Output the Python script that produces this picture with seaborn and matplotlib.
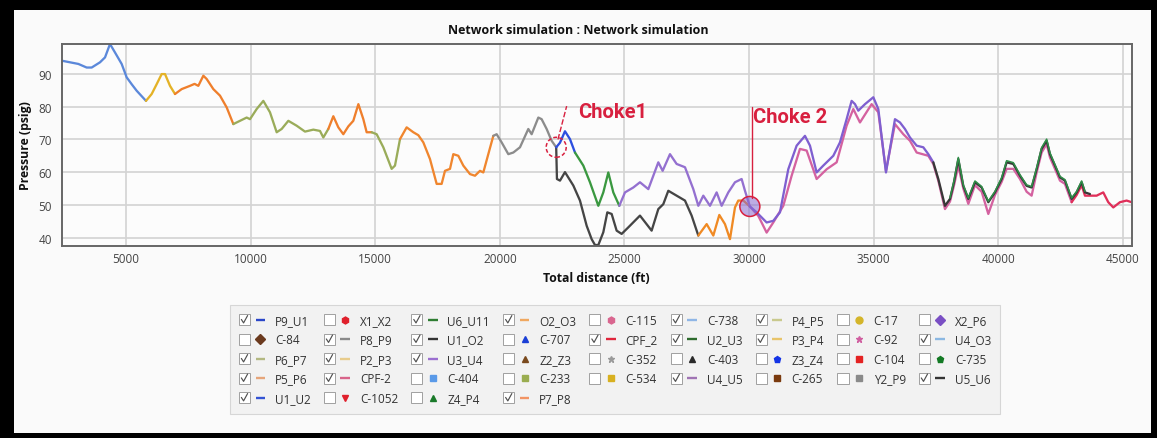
import numpy as np
import pandas as pd
import matplotlib
matplotlib.use("Agg")
import matplotlib.pyplot as plt
import seaborn as sns
from matplotlib.lines import Line2D
from matplotlib.patches import Rectangle, Ellipse
from matplotlib.legend_handler import HandlerBase

# ---------------- data (distance ft, pressure psig) ----------------
u1_u2_x = [2419, 2753, 3088, 3422, 3623, 3957, 4158, 4358, 4559, 4826, 5027, 5227, 5428, 5802]
u1_u2_y = [94.1, 93.6, 93.1, 92.0, 92.0, 93.6, 95.1, 99.2, 96.6, 93.1, 89.0, 86.9, 84.9, 81.8]

p2_p3_x = [5802, 6030, 6230, 6431, 6565, 6765, 6966]
p2_p3_y = [81.8, 83.9, 86.9, 90.0, 90.0, 86.4, 83.9]

p3_p4_x = [6966, 7233, 7568, 7750, 7902, 8103, 8236, 8504, 8771, 9039, 9306]
p3_p4_y = [83.9, 85.4, 86.4, 87.0, 86.4, 89.5, 88.5, 85.4, 83.4, 79.8, 74.7]

p4_p5_x = [9306, 9574, 9841, 9975, 10242, 10510, 10777, 11045, 11245, 11513, 11847, 12181,
           12516, 12783, 12917, 13117]
p4_p5_y = [74.7, 75.7, 76.7, 76.2, 79.3, 81.8, 78.3, 72.2, 73.2, 75.7, 74.2, 72.4,
           73.0, 72.6, 70.6, 73.2]

p5_p6_x = [13117, 13318, 13519, 13719, 13920, 14120, 14323, 14522, 14655, 14856]
p5_p6_y = [73.2, 77.1, 73.7, 71.6, 74.0, 75.7, 80.8, 76.2, 72.2, 72.2]

p6_p7_x = [14856, 15057, 15324, 15658, 15792, 15993]
p6_p7_y = [72.2, 71.6, 67.6, 61.0, 62.0, 70.1]

p7_p8_x = [15993, 16260, 16528, 16729, 16929, 17196, 17464, 17664, 17798, 17999, 18132,
           18333, 18533, 18801, 19002, 19202, 19336, 19536, 19737]
p7_p8_y = [70.1, 73.7, 72.2, 71.3, 69.1, 64.0, 56.4, 56.4, 60.4, 61.0, 65.5,
           65.0, 62.0, 59.4, 58.9, 60.4, 59.9, 65.5, 71.1]

p8_p9_x = [19737, 19871, 20071, 20339, 20540, 20807, 21141, 21275, 21543, 21676, 21877,
           22077, 22260]
p8_p9_y = [71.1, 71.6, 69.1, 65.5, 66.0, 67.6, 73.2, 71.6, 76.7, 76.2, 73.2, 69.6, 67.6]

# upper branch after Choke 1
p9_u1_x = [22260, 22412, 22612, 22813, 23014]
p9_u1_y = [67.6, 69.0, 72.5, 70.1, 66.0]

u2_u3_x = [23014, 23348, 23615, 23950, 24150, 24351, 24551, 24792]
u2_u3_y = [66.0, 62.0, 56.9, 49.7, 53.8, 59.9, 53.8, 49.7]

u3_u4_x = [24792, 25020, 25354, 25621, 25956, 26357, 26531, 26825, 27092, 27427, 27761,
           27962, 28162, 28430, 28697, 28898, 29165, 29433, 29700, 29834, 30030]
u3_u4_y = [49.7, 53.8, 55.3, 56.9, 54.8, 63.0, 60.4, 65.5, 62.5, 61.5, 54.8,
           49.7, 52.8, 49.7, 53.8, 49.7, 53.8, 56.9, 57.9, 54.3, 49.5]

# lower branch after Choke 1
u1_o2_x = [22260, 22290, 22412, 22612, 22947, 23214, 23482, 23682, 23816, 23950, 24150,
           24311, 24485, 24685, 24886, 25153, 25621, 26089, 26357, 26557, 26758, 27092,
           27427, 27694, 27962]
u1_o2_y = [67.6, 57.9, 57.4, 60.0, 55.9, 51.3, 43.6, 39.5, 37.7, 37.7, 41.6,
           47.7, 47.2, 42.1, 41.1, 43.1, 46.7, 42.1, 48.7, 50.2, 54.3, 52.8,
           51.3, 46.7, 40.6]

o2_o3_x = [27962, 28297, 28564, 28804, 29031, 29232, 29433, 29566, 29767, 30030]
o2_o3_y = [40.6, 44.1, 40.6, 46.9, 44.1, 39.5, 49.2, 51.3, 51.3, 49.5]

# after Choke 2
u4_u5_x = [30030, 30302, 30703, 30970, 31238, 31572, 31907, 32241, 32442, 32709, 32976,
           33378, 33645, 33912, 34113, 34248, 34381, 34649, 34983, 35184, 35491, 35852,
           36053, 36253, 36454, 36722, 36989, 37190, 37390]
u4_u5_y = [49.5, 47.7, 44.6, 45.1, 47.7, 60.9, 68.1, 71.1, 68.1, 59.9, 62.0,
           65.0, 69.1, 76.2, 81.8, 80.8, 78.8, 80.8, 82.9, 79.3, 59.9, 76.2,
           75.2, 73.2, 70.6, 68.1, 67.6, 65.5, 63.0]

cpf2_x = [30030, 30369, 30703, 30970, 31372, 31706, 32040, 32308, 32709, 33114, 33512,
          33912, 34180, 34448, 34916, 35184, 35491, 35852, 36187, 36454, 36722, 37190,
          37390, 37591, 37858, 38059, 38219, 38393, 38594, 38795, 39062, 39330, 39597,
          39864, 40132, 40332, 40600, 40867, 41135, 41335, 41536, 41736, 41937, 42071,
          42271, 42472, 42672, 42940]
cpf2_y = [49.5, 46.6, 41.5, 44.6, 49.7, 58.9, 67.1, 66.6, 57.9, 60.9, 63.0,
          74.2, 79.3, 75.2, 80.8, 78.3, 60.4, 74.7, 71.6, 69.6, 66.0, 65.0,
          62.5, 57.4, 48.7, 51.0, 55.9, 62.0, 55.0, 50.3, 56.0, 54.0, 47.2,
          53.0, 57.0, 61.0, 61.0, 57.9, 54.0, 52.8, 59.9, 66.0, 68.6, 64.5,
          61.0, 57.4, 56.4, 50.8]

cpf_2_x = [42940, 43140, 43341, 43475, 43675, 43942, 44209, 44410, 44611, 44878, 45146, 45347]
cpf_2_y = [50.8, 53.0, 56.0, 52.8, 52.8, 52.8, 53.8, 50.8, 49.2, 50.8, 51.3, 50.8]

u5_u6_x = [37390, 37591, 37858, 38059, 38219, 38393, 38594, 38795, 39062, 39330, 39597,
           39864, 40132, 40332, 40600, 40867, 41135, 41335, 41536, 41736, 41937, 42071,
           42271, 42472, 42672, 42940, 43140, 43341, 43475, 43675]
u5_u6_y = [63.0, 57.9, 49.7, 51.8, 56.9, 64.0, 55.8, 51.8, 56.9, 55.3, 50.8,
           53.8, 57.9, 63.0, 62.5, 58.9, 55.8, 55.3, 60.9, 67.1, 69.6, 65.5,
           62.0, 58.4, 57.4, 51.8, 53.8, 56.9, 53.8, 53.3]

u6_u11_x = [38059, 38219, 38393, 38594, 38795, 39062, 39330, 39597, 39864, 40132, 40332,
            40600, 40867, 41135, 41335, 41536, 41736, 41937, 42071, 42271, 42472, 42672,
            42940, 43140, 43341, 43475]
u6_u11_y = [52.1, 57.3, 64.5, 56.1, 52.1, 57.3, 55.6, 51.1, 54.1, 58.3, 63.5,
            62.9, 59.2, 56.1, 55.6, 61.3, 67.5, 70.1, 65.9, 62.3, 58.7, 57.7,
            52.1, 54.1, 57.3, 54.1]

choke_x = [22260, 30030]
choke_y = [67.6, 49.5]
choke_labels = ["Choke1", "Choke 2"]

x_ticks = [5000, 10000, 15000, 20000, 25000, 30000, 35000, 40000, 45000]
y_ticks = [40, 50, 60, 70, 80, 90]

# legend entries in display (row-major) order
legend_labels = ["P9_U1", "X1_X2", "U6_U11", "O2_O3", "C-115", "C-738", "P4_P5", "C-17", "X2_P6",
                 "C-84", "P8_P9", "U1_O2", "C-707", "CPF_2", "U2_U3", "P3_P4", "C-92", "U4_O3",
                 "P6_P7", "P2_P3", "U3_U4", "Z2_Z3", "C-352", "C-403", "Z3_Z4", "C-104", "C-735",
                 "P5_P6", "CPF-2", "C-404", "C-233", "C-534", "U4_U5", "C-265", "Y2_P9", "U5_U6",
                 "U1_U2", "C-1052", "Z4_P4", "P7_P8"]
legend_checked = [1, 0, 1, 1, 0, 1, 1, 0, 0,
                  0, 1, 1, 0, 1, 1, 1, 0, 1,
                  1, 1, 1, 0, 0, 0, 0, 0, 0,
                  1, 1, 0, 0, 0, 1, 0, 0, 1,
                  1, 0, 0, 1]
legend_colors = ["#2a46c8", "#e0202c", "#2e7d32", "#f0a860", "#d9668f", "#8fb6e6", "#c9c98e", "#d4b52a", "#7a4fc4",
                 "#6b3a1e", "#8a8a8a", "#333333", "#1b3fd6", "#e0263c", "#2e6b2e", "#e8c46a", "#d05fa0", "#8cb8e2",
                 "#b3b882", "#e8cc8c", "#9b6fd0", "#7a4a1e", "#9a9a9a", "#2a2a2a", "#1434e6", "#e42222", "#137a24",
                 "#e6a57a", "#d8648a", "#5a9ae8", "#9aad50", "#d8b020", "#a074b4", "#7a3a0e", "#8a8a8a", "#333333",
                 "#3454d4", "#e0202c", "#1a7a2a", "#f29464"]
legend_markers = [None, "h", None, None, "h", None, None, "o", "D",
                  "D", None, None, "^", None, None, None, "*", None,
                  None, None, None, "^", "*", "^", "p", "s", "p",
                  None, None, "s", "s", "s", None, "s", "s", None,
                  None, "v", "^", None]

# ---------------- style ----------------
sns.set_theme(style="whitegrid")
plt.rcParams["font.family"] = ["Open Sans", "DejaVu Sans"]

W, H = 1157, 439
fig = plt.figure(figsize=(W / 100, H / 100), dpi=100, facecolor="black")
fig.add_artist(Rectangle((14 / W, 1 - 434 / H), (1151 - 14) / W, (434 - 11) / H,
                         transform=fig.transFigure, facecolor="#fafafa",
                         edgecolor="none", zorder=0))

ax = fig.add_axes([61.7 / W, 1 - 247 / H, (1131.7 - 61.7) / W, (247 - 45) / H])
ax.set_facecolor("#fcfcfc")

segments = [
    (u1_u2_x, u1_u2_y, "#5b88da"),
    (p2_p3_x, p2_p3_y, "#e4b226"),
    (p3_p4_x, p3_p4_y, "#ef7f2c"),
    (p4_p5_x, p4_p5_y, "#9aac5a"),
    (p5_p6_x, p5_p6_y, "#ef7f2c"),
    (p6_p7_x, p6_p7_y, "#9aac5a"),
    (p7_p8_x, p7_p8_y, "#f0862e"),
    (p8_p9_x, p8_p9_y, "#8c8c8c"),
    (u1_o2_x, u1_o2_y, "#454545"),
    (o2_o3_x, o2_o3_y, "#f08a24"),
    (p9_u1_x, p9_u1_y, "#2d4fe0"),
    (u2_u3_x, u2_u3_y, "#3a9840"),
    (u3_u4_x, u3_u4_y, "#9470d0"),
    (cpf2_x, cpf2_y, "#d462a0"),
    (cpf_2_x, cpf_2_y, "#e0305a"),
    (u4_u5_x, u4_u5_y, "#7f5fd0"),
    (u5_u6_x, u5_u6_y, "#383838"),
    (u6_u11_x, u6_u11_y, "#2f8f48"),
]
for xs, ys, c in segments:
    lw = 1.1 if c == "#2f8f48" else 1.65
    sns.lineplot(x=xs, y=ys, color=c, lw=lw, ax=ax, sort=False, estimator=None,
                 legend=False, solid_capstyle="round", solid_joinstyle="round")

ax.set_xlim(2420, 45350)
ax.set_ylim(37.4, 99.2)
ax.set_xticks(x_ticks)
ax.set_yticks(y_ticks)
ax.set_xticklabels([str(v) for v in x_ticks])
ax.grid(True, color="#d3d3d3", lw=1.2)
for sp in ax.spines.values():
    sp.set_color("#666666")
    sp.set_linewidth(1.4)
ax.tick_params(axis="both", labelsize=8.5, colors="#444444", length=0)
ax.tick_params(axis="y", pad=7)
ax.tick_params(axis="x", pad=4)
ax.set_xlabel("Total distance (ft)", fontsize=8.8, fontweight="bold", color="#111111", labelpad=5)
ax.set_ylabel("Pressure (psig)", fontsize=8.8, fontweight="bold", color="#111111", labelpad=5)

fig.text(0.5, 1 - 30 / H, "Network simulation : Network simulation", ha="center", va="center",
         fontsize=9, fontweight="bold", color="#111111")

# ---------------- choke annotations ----------------
red = "#d8203f"
w_units = 20 / 0.024925
h_units = 20 / 3.27
ax.add_patch(Ellipse((choke_x[0], choke_y[0]), w_units, h_units, facecolor="none",
                     edgecolor=red, lw=1.1, ls=(0, (2.5, 1.5)), zorder=5))
ax.plot([choke_x[0] + 70, choke_x[0] + 420], [choke_y[0] + 2.4, choke_y[0] + 12.6],
        color=red, lw=1.0, ls=(0, (4, 1.5)), zorder=5)
ax.text(choke_x[0] + 890, choke_y[0] + 11.0, choke_labels[0], color=red, fontsize=14.5,
        fontweight="bold", family=["Roboto", "DejaVu Sans"], ha="left", va="center", zorder=6)

ax.add_patch(Ellipse((choke_x[1], choke_y[1]), w_units, h_units, facecolor="#8a6ad0",
                     alpha=0.55, edgecolor="none", zorder=5))
ax.add_patch(Ellipse((choke_x[1], choke_y[1]), w_units, h_units, facecolor="none",
                     edgecolor=red, lw=1.1, zorder=6))
ax.plot([choke_x[1] + 95, choke_x[1] + 95], [choke_y[1] + 2.6, choke_y[1] + 30.4],
        color=red, lw=1.0, zorder=5)
ax.text(choke_x[1] + 130, choke_y[1] + 27.6, choke_labels[1], color=red, fontsize=14.5,
        fontweight="bold", family=["Roboto", "DejaVu Sans"], ha="left", va="center", zorder=6)


# ---------------- legend with check boxes ----------------
class CheckEntry:
    def __init__(self, checked, color, marker):
        self.checked = checked
        self.color = color
        self.marker = marker


class CheckHandler(HandlerBase):
    def create_artists(self, legend, h, xdescent, ydescent, width, height, fontsize, trans):
        s = 8.0
        x0 = -xdescent
        yc = -ydescent + height / 2
        arts = [Rectangle((x0, yc - s / 2), s, s, facecolor="white", edgecolor="#a0a0a0",
                          lw=0.7, transform=trans)]
        if h.checked:
            arts.append(Line2D([x0 + 1.8, x0 + 3.4, x0 + 6.3], [yc + 0.2, yc - 2.3, yc + 3.0],
                               color="#505050", lw=0.85, transform=trans))
        if h.marker is None:
            arts.append(Line2D([x0 + 12.0, x0 + 19.0], [yc, yc], color=h.color, lw=1.7,
                               solid_capstyle="butt", transform=trans))
        else:
            arts.append(Line2D([x0 + 15.5], [yc], marker=h.marker, ms=5.0, color=h.color,
                               mec=h.color, lw=0, transform=trans))
        return arts


n_items = len(legend_labels)
ncol = 9
entries = [CheckEntry(legend_checked[i], legend_colors[i], legend_markers[i]) for i in range(n_items)]
nrows = int(np.ceil(n_items / ncol))
order = []
for c in range(ncol):
    for r in range(nrows):
        i = r * ncol + c
        if i < n_items:
            order.append(i)
leg = fig.legend([entries[i] for i in order], [legend_labels[i] for i in order],
                 handler_map={CheckEntry: CheckHandler()}, ncol=ncol,
                 loc="upper left", bbox_to_anchor=(230 / W, 1 - 415 / H, (1000 - 230) / W, (415 - 306) / H),
                 mode="expand", fontsize=8.5, frameon=True, fancybox=False, facecolor="#f2f2f2",
                 edgecolor="#d6d6d6", framealpha=1, handlelength=2.46, handletextpad=0.6,
                 columnspacing=0.5, labelspacing=0.55, borderpad=0.75, borderaxespad=0)
for t in leg.get_texts():
    t.set_color("#333333")
leg.get_frame().set_linewidth(0.8)

fig.savefig("out.png", dpi=100, facecolor="black")
